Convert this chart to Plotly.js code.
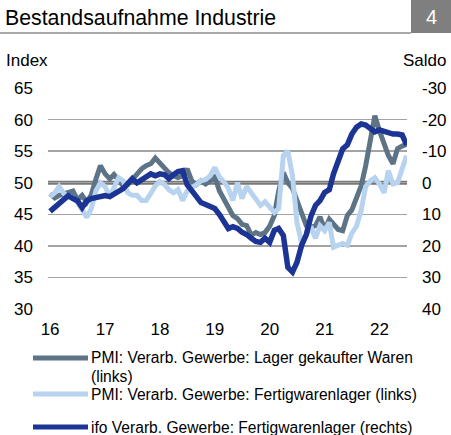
<!DOCTYPE html>
<html>
<head>
<meta charset="utf-8">
<script src="https://cdn.plot.ly/plotly-3.0.1.min.js"></script>
<style>
html,body{margin:0;padding:0;background:#fff;}
#chart{width:451px;height:435px;}
</style>
</head>
<body>
<div id="chart"></div>
<script>
// Monthly data, Jan 2016 onward
var startYear = 2016;
var seriesNames = [
  "PMI: Verarb. Gewerbe: Lager gekaufter Waren",
  "PMI: Verarb. Gewerbe: Fertigwarenlager (links)",
  "ifo Verarb. Gewerbe: Fertigwarenlager (rechts)"
];
// PMI stocks of purchases (left axis, index)
var pmiPurchases = [48.3,47.6,48.0,48.3,48.6,48.7,47.3,48.0,46.9,48.1,50.6,52.7,
  51.4,50.6,51.3,50.5,49.5,49.7,50.6,51.3,52.2,52.7,53.0,53.9,
  53.1,52.4,51.6,51.1,50.8,51.1,52.2,50.3,49.7,50.3,49.8,50.3,
  50.9,48.7,47.5,45.9,44.8,44.3,43.4,43.2,41.7,42.1,41.8,42.1,
  43.1,44.8,48.7,51.6,50.0,49.1,47.2,44.8,43.2,42.9,43.2,44.6,
  42.6,44.2,43.4,42.6,42.4,44.8,45.7,47.5,49.5,52.7,56.6,60.6,
  58.2,56.3,54.3,53.0,55.4,55.8,56.1];
// PMI stocks of finished goods (left axis, index)
var pmiFinished = [47.8,48.4,49.4,48.3,47.8,47.6,46.9,45.6,44.5,45.9,48.7,50.0,
  49.4,47.8,49.2,50.8,50.3,48.4,48.0,48.0,47.2,47.2,48.3,49.5,
  50.2,49.7,48.9,48.4,48.9,47.2,48.7,49.1,49.7,50.3,50.5,51.1,
  52.4,50.9,50.2,49.1,47.2,50.0,47.5,49.4,48.4,47.2,46.4,47.0,
  46.1,45.3,45.9,54.3,55.0,51.1,43.7,40.4,41.7,43.1,41.2,43.2,
  42.4,43.7,39.8,40.1,40.4,40.1,42.0,43.1,45.6,49.4,50.3,50.8,
  49.8,48.4,51.9,49.8,50.0,52.2,54.3];
// ifo stocks of finished goods (right axis, balance, reversed)
var ifoFinished = [9.1,7.9,6.9,5.4,4.1,5.0,5.7,7.9,5.7,5.0,4.7,4.4,
  4.1,4.4,3.5,2.5,1.9,0.3,-1.3,0.0,-0.9,-1.9,-2.8,-2.2,
  -2.8,-2.5,-1.3,-2.5,-3.5,-3.8,0.6,2.5,4.4,6.3,6.9,7.6,
  8.2,10.1,12.6,14.5,13.9,14.5,15.7,16.4,17.6,18.6,18.9,17.6,
  18.9,15.1,14.5,16.7,26.8,28.3,25.2,19.8,16.4,10.7,7.2,5.7,
  3.1,2.2,-2.8,-7.2,-10.7,-12.0,-15.4,-17.6,-18.6,-18.3,-17.0,-16.1,
  -16.7,-16.1,-15.7,-15.4,-15.4,-15.1,-12.0];
var yearTicks = ["2016-01-01","2017-01-01","2018-01-01","2019-01-01","2020-01-01","2021-01-01","2022-01-01"];
var yearLabels = ["16","17","18","19","20","21","22"];
var leftTicks = [30,35,40,45,50,55,60,65];
var rightTicks = [-30,-20,-10,0,10,20,30,40];
var rightLabels = ["-30","-20","-10","0","10","20","30","40"];

function monthDates(n){
  var out = [];
  for (var i = 0; i < n; i++){
    var y = startYear + Math.floor(i/12), m = (i%12)+1;
    out.push(y + "-" + (m<10?"0":"") + m + "-01");
  }
  return out;
}
var dates = monthDates(pmiPurchases.length);

var cGray = "#5d7386", cLight = "#b7d3ef", cDark = "#1c3493";
var font = "Arial, 'Liberation Sans', sans-serif";

var traces = [
  {x: dates, y: pmiPurchases, type: "scatter", mode: "lines", name: seriesNames[0],
   line: {color: cGray, width: 5}, yaxis: "y", showlegend: false},
  {x: dates, y: pmiFinished, type: "scatter", mode: "lines", name: seriesNames[1],
   line: {color: cLight, width: 5}, yaxis: "y", showlegend: false},
  {x: dates, y: ifoFinished, type: "scatter", mode: "lines", name: seriesNames[2],
   line: {color: cDark, width: 5.5}, yaxis: "y2", showlegend: false}
];

// pixel helpers for paper coordinates
var W = 451, H = 435, mL = 48, mR = 44, mT = 88, mB = 126;
var pw = W - mL - mR, ph = H - mT - mB;
function px(p){ return (p - mL) / pw; }
function py(q){ return (H - mB - q) / ph; }

var legendY = [358, 394, 427];
var legendColors = [cGray, cLight, cDark];
var shapes = [
  {type: "line", xref: "paper", yref: "y", x0: 0, x1: 1, y0: 50, y1: 50,
   line: {color: "#787878", width: 4}, layer: "below"},
  {type: "line", xref: "paper", yref: "paper", x0: px(0), x1: px(411), y0: py(33), y1: py(33),
   line: {color: "#8c8c8c", width: 1.5}},
  {type: "rect", xref: "paper", yref: "paper", x0: px(411), x1: px(452), y0: py(33), y1: py(-2),
   fillcolor: "#7f7f7f", line: {width: 0}}
];
legendY.forEach(function(q, i){
  shapes.push({type: "line", xref: "paper", yref: "paper", x0: px(33), x1: px(88), y0: py(q), y1: py(q),
    line: {color: legendColors[i], width: 5}});
});

var lf = 15.6;
var annotations = [
  {text: "4", xref: "paper", yref: "paper", x: px(431), y: py(17), showarrow: false,
   xanchor: "center", yanchor: "middle", font: {family: font, size: 20, color: "#ffffff"}},
  {text: "Index", xref: "paper", yref: "paper", x: px(4), y: py(60), showarrow: false,
   xanchor: "left", yanchor: "middle", font: {family: font, size: 17, color: "#000"}},
  {text: "Saldo", xref: "paper", yref: "paper", x: px(448), y: py(60), showarrow: false,
   xanchor: "right", yanchor: "middle", font: {family: font, size: 17, color: "#000"}},
  {text: seriesNames[0], xref: "paper", yref: "paper", x: px(90), y: py(357.5), showarrow: false,
   xanchor: "left", yanchor: "middle", borderpad: 0, font: {family: font, size: lf, color: "#000"}},
  {text: "(links)", xref: "paper", yref: "paper", x: px(90), y: py(376), showarrow: false,
   xanchor: "left", yanchor: "middle", borderpad: 0, font: {family: font, size: lf, color: "#000"}},
  {text: seriesNames[1], xref: "paper", yref: "paper", x: px(90), y: py(394.5), showarrow: false,
   xanchor: "left", yanchor: "middle", borderpad: 0, font: {family: font, size: lf, color: "#000"}},
  {text: seriesNames[2], xref: "paper", yref: "paper", x: px(90), y: py(427), showarrow: false,
   xanchor: "left", yanchor: "middle", borderpad: 0, font: {family: font, size: lf, color: "#000"}}
];

var layout = {
  width: W, height: H,
  margin: {l: mL, r: mR, t: mT, b: mB, pad: 0},
  paper_bgcolor: "#ffffff", plot_bgcolor: "#ffffff",
  font: {family: font, size: 17, color: "#000"},
  title: {text: "Bestandsaufnahme Industrie", xref: "container", yref: "container",
          x: 5/W, xanchor: "left", y: 1 - 18/H, yanchor: "middle",
          font: {family: font, size: 21.3, color: "#000"}},
  showlegend: false,
  xaxis: {type: "date", range: ["2015-12-18", "2022-07-03"],
          tickvals: yearTicks, ticktext: yearLabels, showgrid: false, zeroline: false,
          showline: false, ticks: "", ticklabelstandoff: 8,
          tickfont: {family: font, size: 17, color: "#000"}, fixedrange: true},
  yaxis: {range: [30, 65], tickvals: leftTicks, showgrid: true, gridcolor: "#a3a3a3", gridwidth: 1.5,
          zeroline: false, showline: false, ticks: "", ticklabelstandoff: 14,
          tickfont: {family: font, size: 17, color: "#000"}, fixedrange: true},
  yaxis2: {range: [40, -30], tickvals: rightTicks, ticktext: rightLabels, overlaying: "y", side: "right",
           showgrid: false, zeroline: false, showline: false, ticks: "", ticklabelstandoff: 14,
           tickfont: {family: font, size: 17, color: "#000"}, fixedrange: true},
  shapes: shapes,
  annotations: annotations
};

Plotly.newPlot("chart", traces, layout, {staticPlot: true, displayModeBar: false});
</script>
</body>
</html>
